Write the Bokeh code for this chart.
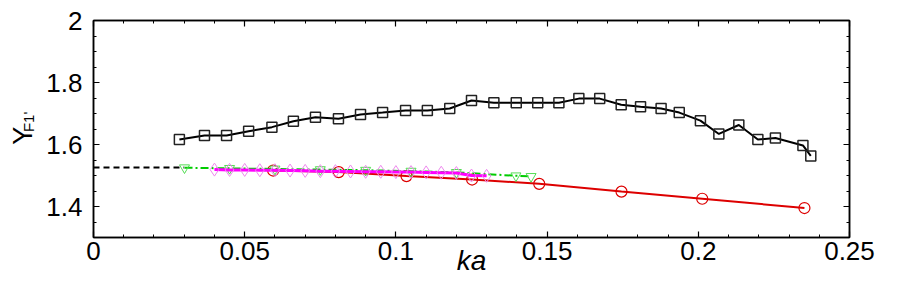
import math
from bokeh.plotting import figure
from bokeh.layouts import row
from bokeh.models import (Range1d, LinearAxis, FixedTicker, NumeralTickFormatter)
from bokeh.core.properties import value
from bokeh.embed import file_html
from bokeh.resources import INLINE

# ---- data ----
sq_ka = [0.0284, 0.0367, 0.0440, 0.0513, 0.0590, 0.0661, 0.0734, 0.0810, 0.0883, 0.0956,
         0.1032, 0.1104, 0.1178, 0.1250, 0.1324, 0.1398, 0.1469, 0.1539, 0.1605, 0.1674,
         0.1745, 0.1809, 0.1877, 0.1937, 0.2007, 0.2068, 0.2134, 0.2197, 0.2255, 0.2346, 0.2372]
sq_y = [1.616, 1.629, 1.629, 1.643, 1.656, 1.675, 1.688, 1.683, 1.697, 1.703,
        1.710, 1.710, 1.716, 1.742, 1.735, 1.735, 1.735, 1.735, 1.748, 1.748,
        1.728, 1.722, 1.716, 1.703, 1.677, 1.634, 1.663, 1.616, 1.621, 1.597, 1.563]

circ_ka = [0.0594, 0.0811, 0.1035, 0.1252, 0.1474, 0.1746, 0.2013, 0.2351]
circ_y = [1.516, 1.511, 1.498, 1.487, 1.473, 1.448, 1.425, 1.395]

tri_ka = [0.0301, 0.045, 0.060, 0.075, 0.090, 0.105, 0.120, 0.1397, 0.1447]
tri_y = [1.525, 1.523, 1.521, 1.519, 1.517, 1.514, 1.510, 1.499, 1.497]

dia_ka = [0.040, 0.045, 0.050, 0.055, 0.060, 0.065, 0.070, 0.075, 0.080, 0.085,
          0.090, 0.095, 0.100, 0.105, 0.110, 0.115, 0.120, 0.125, 0.130]
dia_y = [1.519, 1.518, 1.518, 1.517, 1.517, 1.516, 1.515, 1.514, 1.514, 1.513,
         1.512, 1.512, 1.511, 1.511, 1.510, 1.509, 1.508, 1.500, 1.499]

dash_ka = [0.0, 0.030]
dash_y = [1.526, 1.526]

x_ticks = [0.0, 0.05, 0.1, 0.15, 0.2, 0.25]
x_minor = [round(0.01 * i, 2) for i in range(0, 26)]
y_ticks = [1.4, 1.6, 1.8, 2.0]
y_minor = [round(1.3 + 0.05 * i, 2) for i in range(0, 15)]

x_title = "ka"
y_title = "Y"
y_title_sub = "F1'"

FONT = "Liberation Sans"
H = 292
LEFT_W = 40

p = figure(frame_width=756, frame_height=217, output_backend="svg", toolbar_location=None,
           x_range=Range1d(0, 0.25), y_range=Range1d(1.3, 2.0),
           min_border_left=93 - LEFT_W, min_border_top=20, min_border_right=35,
           min_border_bottom=H - 20 - 217,
           x_axis_location=None, y_axis_location=None)
p.grid.visible = False
p.outline_line_color = "black"
p.outline_line_width = 1.5
p.background_fill_color = "white"
p.border_fill_color = "white"


def make_axis(ticks, minor, fmt, show_labels):
    ax = LinearAxis(ticker=FixedTicker(ticks=ticks, minor_ticks=minor),
                    formatter=NumeralTickFormatter(format=fmt))
    ax.axis_line_color = "black"
    ax.axis_line_width = 1.5
    ax.major_tick_in = 6
    ax.major_tick_out = 0
    ax.minor_tick_in = 3
    ax.minor_tick_out = 0
    ax.major_tick_line_width = 1.2
    ax.minor_tick_line_width = 1
    ax.major_label_text_font = FONT
    ax.major_label_text_font_size = "26px"
    ax.major_label_text_color = "black"
    if not show_labels:
        ax.major_label_text_font_size = "0px"
        ax.major_label_text_alpha = 0
    return ax

xb = make_axis(x_ticks, x_minor, "0.[00]", True)
xb.major_label_standoff = 4
xb.axis_label = x_title
xb.axis_label_text_font = FONT
xb.axis_label_text_font_size = "28px"
xb.axis_label_text_font_style = "italic"
xb.axis_label_text_color = "black"
xb.axis_label_standoff = -18
p.add_layout(xb, "below")
xt = make_axis(x_ticks, x_minor, "0.[00]", False)
p.add_layout(xt, "above")
yl = make_axis(y_ticks, y_minor, "0.[0]", True)
yl.major_label_standoff = 11
p.add_layout(yl, "left")
yr = make_axis(y_ticks, y_minor, "0.[0]", False)
p.add_layout(yr, "right")

# series
p.line(dash_ka, dash_y, line_color="black", line_width=2, line_dash="6 4")
p.line(circ_ka, circ_y, line_color="#dd0000", line_width=2)
p.scatter(circ_ka, circ_y, marker="circle", size=11, fill_color=None,
          line_color="#dd0000", line_width=1.2)
p.line(tri_ka, tri_y, line_color="#00cc00", line_width=2, line_dash="8 3 2 3")
p.scatter(tri_ka, tri_y, marker="inverted_triangle", size=10, fill_color=None,
          line_color="#55dd55", line_width=1)
p.line(dia_ka, dia_y, line_color="#ff00ff", line_width=3)
p.scatter(dia_ka, dia_y, marker="diamond", size=13, fill_color=None,
          line_color="#ee88ee", line_width=1)
p.line(sq_ka, sq_y, line_color="black", line_width=2)
p.scatter(sq_ka, sq_y, marker="square", size=10, fill_color=None,
          line_color="#222222", line_width=1.5)

# left strip holding the rotated y title with its subscript
t = figure(width=LEFT_W, height=H, output_backend="svg", toolbar_location=None,
           x_range=Range1d(0, LEFT_W), y_range=Range1d(0, H),
           min_border=0, x_axis_location=None, y_axis_location=None)
t.grid.visible = False
t.outline_line_color = None
t.background_fill_color = "white"
t.border_fill_color = "white"
t.text(x=[22], y=[137], text=[y_title], angle=math.pi / 2,
       text_font=value(FONT), text_font_size="27px", text_align="center",
       text_baseline="middle", text_color="black")
t.text(x=[27.5], y=[155.5], text=[y_title_sub], angle=math.pi / 2,
       text_font=value(FONT), text_font_size="15px", text_align="center",
       text_baseline="middle", text_color="black")

layout = row(t, p, spacing=0)
open("out.html", "w").write(file_html(layout, INLINE))
